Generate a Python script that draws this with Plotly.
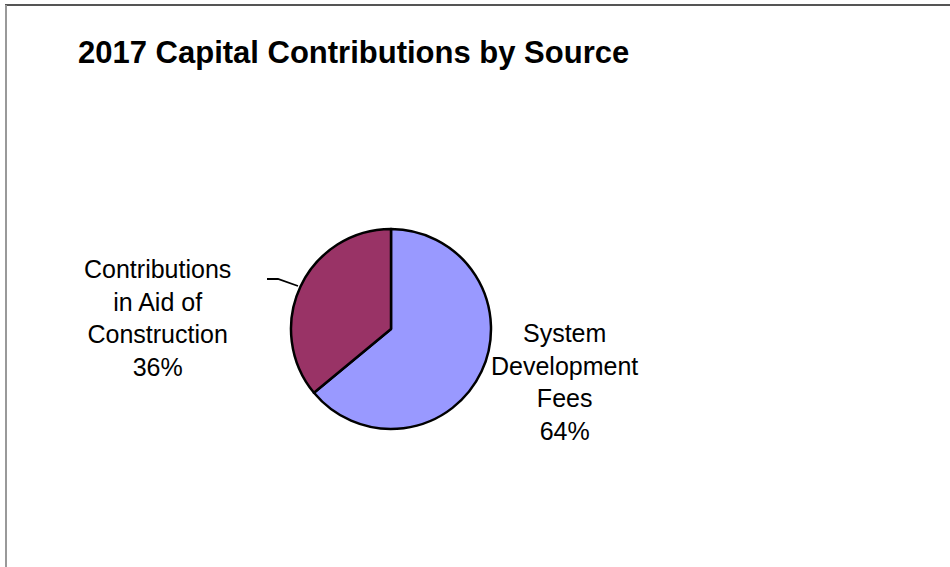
import plotly.graph_objects as go

# ---- data ----
title_text = "2017 Capital Contributions by Source"
categories = ["System Development Fees", "Contributions in Aid of Construction"]
label_lines = [["System", "Development", "Fees"], ["Contributions", "in Aid of", "Construction"]]
values = [64, 36]
colors = ["#9999FF", "#993366"]

W, H = 950, 567

def px(x):
    return x / W

def py(y):
    return 1 - y / H

fig = go.Figure()
fig.add_trace(go.Pie(
    labels=categories,
    values=values,
    sort=False,
    direction="clockwise",
    rotation=0,
    marker=dict(colors=colors, line=dict(color="black", width=2.5)),
    textinfo="none",
    hoverinfo="label+percent",
    showlegend=False,
    domain=dict(x=[px(291), px(491)], y=[py(429), py(229)]),
))

total = sum(values)
label_pos = [(564, 382), (157, 318)]
annotations = []
for lines, v, (lx, ly) in zip(label_lines, values, label_pos):
    pct = round(100 * v / total)
    annotations.append(dict(
        x=px(lx), y=py(ly), xref="paper", yref="paper",
        text="<br>".join(lines + [f"{pct}%"]),
        showarrow=False, xanchor="center", yanchor="middle", align="center",
        font=dict(family="Liberation Sans, Arial, sans-serif", size=25, color="black"),
    ))

annotations.append(dict(
    x=px(76), y=py(52), xref="paper", yref="paper",
    text=f"<b>{title_text}</b>", showarrow=False,
    xanchor="left", yanchor="middle",
    font=dict(family="Liberation Sans, Arial, sans-serif", size=31, color="black"),
))

shapes = [
    # leader line for CIAC label
    dict(type="path", xref="paper", yref="paper",
         path=f"M {px(267)} {py(279)} L {px(278)} {py(279)} L {px(298)} {py(286)}",
         line=dict(color="black", width=1.8)),
    # chart frame (top and left edges visible)
    dict(type="line", xref="paper", yref="paper", x0=px(5), x1=1.01, y0=py(5), y1=py(5),
         line=dict(color="#555555", width=2)),
    dict(type="line", xref="paper", yref="paper", x0=px(6), x1=px(6), y0=py(5), y1=-0.01,
         line=dict(color="#999999", width=2)),
]

fig.update_layout(
    width=W, height=H,
    margin=dict(l=0, r=0, t=0, b=0),
    paper_bgcolor="white", plot_bgcolor="white",
    annotations=annotations,
    shapes=shapes,
)

fig.write_html("out.html")
